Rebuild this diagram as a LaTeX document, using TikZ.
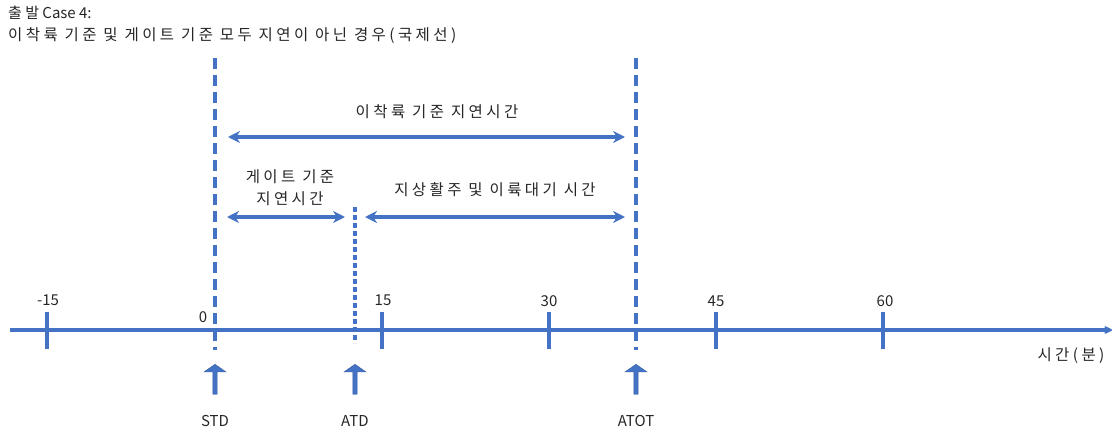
\documentclass[tikz,border=0pt]{standalone}
\usepackage{fontspec}
\setmainfont{Noto Sans CJK KR}
\newfontfamily\kr{Noto Sans CJK KR}[LetterSpace=22]
\usetikzlibrary{arrows.meta,shapes.arrows}
\definecolor{tblue}{HTML}{4472C4}
\tikzset{
  txt/.style={font=\fontsize{15.5}{18}\selectfont\kr, inner sep=0pt, text=black!85},
  lat/.style={font=\fontsize{15}{18}\selectfont, inner sep=0pt, text=black!85},
  vdash/.style={draw=tblue, line width=3.2pt, dash pattern=on 11pt off 6pt},
  vdot/.style={draw=tblue, line width=3.2pt, dash pattern=on 5pt off 3pt},
  tick/.style={draw=tblue, line width=3.2pt},
  span/.style={draw=tblue, line width=3.2pt, {Stealth[length=12pt,width=12pt]}-{Stealth[length=12pt,width=12pt]}},
  uparr/.style={single arrow, fill=tblue, draw=tblue!80!black, line width=0.4pt, shape border rotate=90, minimum height=30pt, minimum width=22pt, single arrow head extend=7pt, single arrow tip angle=110, inner sep=1.5pt}
}
\begin{document}
\begin{tikzpicture}[x=1pt,y=-1pt]
\useasboundingbox (0,0) rectangle (1113,431);
% title
\node[lat, anchor=west] (t1) at (8,13) {{\kr 출발} Case 4:};
\node[txt, anchor=west] (t2) at (8,36) {이착륙 기준 및 게이트 기준 모두 지연이 아닌 경우(국제선)};
% axis
\coordinate (ax0) at (10,330);
\coordinate (ax1) at (1112,330);
\draw[tblue, line width=3.2pt, -{Stealth[length=10pt,width=10pt,round]}] (ax0) -- (ax1);
% ticks
\foreach \n/\x in {m15/47, p15/382, p30/549, p45/716, p60/883}{
  \coordinate (\n a) at (\x,312);
  \coordinate (\n b) at (\x,349);
  \draw[tick] (\n a) -- (\n b);
}
\node[lat] (lm15) at (48,300) {-15};
\node[lat] (l0) at (203,317) {0};
\node[lat] (l15) at (383,300) {15};
\node[lat] (l30) at (549,301) {30};
\node[lat] (l45) at (716,301) {45};
\node[lat] (l60) at (885,301) {60};
\node[txt] (lt) at (1071,356) {시간(분)};
% dashed verticals
\coordinate (std1) at (215,58); \coordinate (std2) at (215,350);
\coordinate (atot1) at (636,58); \coordinate (atot2) at (636,350);
\coordinate (atd1) at (355,207); \coordinate (atd2) at (355,343);
\draw[vdash] (std1) -- (std2);
\draw[vdash] (atot1) -- (atot2);
\draw[vdot] (atd1) -- (atd2);
% spans
\coordinate (s1a) at (228,137); \coordinate (s1b) at (625,137);
\draw[span] (s1a) -- (s1b);
\node[txt] (s1l) at (437,112) {이착륙 기준 지연시간};
\coordinate (s2a) at (227,217); \coordinate (s2b) at (345,217);
\draw[span] (s2a) -- (s2b);
\node[txt, align=center, font=\fontsize{15.5}{22}\selectfont\kr] (s2l) at (290,188) {게이트 기준\\지연시간};
\coordinate (s3a) at (365,217); \coordinate (s3b) at (625,217);
\draw[span] (s3a) -- (s3b);
\node[txt] (s3l) at (495,190) {지상활주 및 이륙대기 시간};
% up arrows
\node[uparr] (a1) at (215,380) {};
\node[uparr] (a2) at (355,380) {};
\node[uparr] (a3) at (636,380) {};
\node[lat] (n1) at (215,421) {STD};
\node[lat] (n2) at (355,421) {ATD};
\node[lat] (n3) at (636,421) {ATOT};
\end{tikzpicture}
\end{document}
